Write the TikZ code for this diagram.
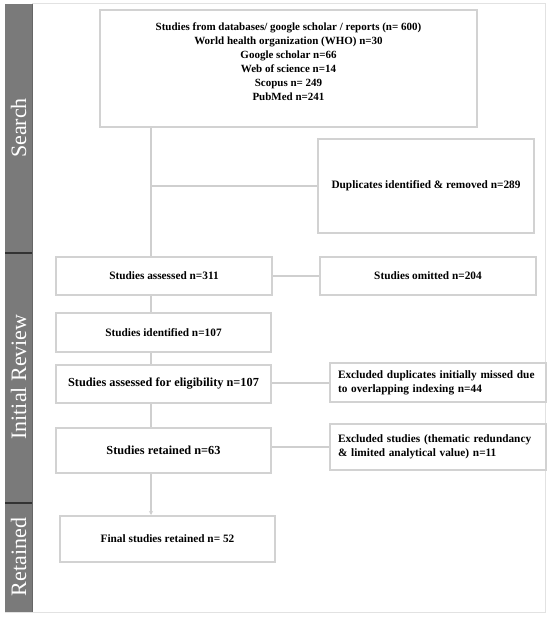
\documentclass[tikz,border=0pt]{standalone}
\usepackage{fontspec}
\setmainfont{Liberation Serif}
\usetikzlibrary{arrows.meta,calc}
\definecolor{boxgray}{HTML}{D2D2D2}
\definecolor{linegray}{HTML}{CFCFCF}
\definecolor{bandgray}{HTML}{7A7A7A}
\definecolor{framegray}{HTML}{E2E2E2}
\tikzset{
  box/.style={draw=boxgray, line width=2pt, fill=white, inner sep=0pt, align=center, font=\bfseries\fontsize{11.3}{14}\selectfont},
  conn/.style={draw=linegray, line width=2pt},
  band/.style={text=white, rotate=90, font=\fontsize{22}{24}\selectfont},
}
\begin{document}
\begin{tikzpicture}[x=1pt,y=-1pt]
\useasboundingbox (0,0) rectangle (550,617);
% frame
\draw[framegray, line width=1pt] (32,4) -- (545,4) -- (545,612) -- (5,612);
% sidebar
\fill[bandgray] (5,4) rectangle (32,612);
\draw[black!80, line width=1.2pt] (5,253) -- (32,253);
\draw[black!80, line width=1.2pt] (5,503) -- (32,503);
\draw[black!60, line width=0.6pt] (32,4) -- (32,612);
\node[band] (lsearch) at (18.5,128) {Search};
\node[band] (lreview) at (18.5,377) {Initial Review};
\node[band] (lretained) at (18.5,557) {Retained};
% boxes
\node[box, minimum width=377pt, minimum height=117pt] (top) at (288.5,68.5) {};
\node[font=\bfseries\fontsize{11}{14}\selectfont, align=center] (toptext) at (288.5,62)
 {Studies from databases/ google scholar / reports (n= 600)\\
  World health organization (WHO) n=30\\
  Google scholar n=66\\
  Web of science n=14\\
  Scopus n= 249\\
  PubMed n=241};
\node[box, minimum width=216pt, minimum height=94pt] (dup) at (426,186) {Duplicates identified \& removed n=289};
\node[box, minimum width=216pt, minimum height=38pt] (assessed) at (164,276) {Studies assessed n=311};
\node[box, minimum width=216pt, minimum height=38pt] (omitted) at (428,276) {Studies omitted n=204};
\node[box, minimum width=215pt, minimum height=39pt] (identified) at (163.5,332.5) {Studies identified n=107};
\node[box, minimum width=215pt, minimum height=38pt, font=\bfseries\fontsize{12.3}{14}\selectfont] (elig) at (163.5,384) {Studies assessed for eligibility n=107};
\node[box, minimum width=215pt, minimum height=45pt, font=\bfseries\fontsize{12.3}{14}\selectfont] (retained) at (163.5,450.5) {Studies retained n=63};
\node[box, minimum width=215pt, minimum height=46pt] (final) at (167.5,539) {Final studies retained n= 52};
\node[box, minimum width=216pt, minimum height=39pt, align=left, text width=200pt] (excldup) at (438,382.5)
 {Excluded duplicates initially missed due\\to overlapping indexing n=44};
\node[box, minimum width=216pt, minimum height=46pt, align=left, text width=200pt] (exclst) at (438,447)
 {Excluded studies (thematic redundancy\\\& limited analytical value) n=11};
% connectors
\coordinate (c1) at (151,0);
\draw[conn] (top.south -| c1) -- (assessed.north -| c1);
\draw[conn] (c1 |- dup.west) -- (dup.west);
\draw[conn] (assessed.east) -- (omitted.west);
\draw[conn] (assessed.south -| c1) -- (identified.north -| c1);
\draw[conn] (identified.south -| c1) -- (elig.north -| c1);
\draw[conn] (elig.south -| c1) -- (retained.north -| c1);
\draw[conn, -{Stealth[length=4pt,width=4pt]}] (retained.south -| c1) -- (final.north -| c1);
\draw[conn] (excldup.west -| elig.east) -- (excldup.west);
\draw[conn] (exclst.west -| retained.east) -- (exclst.west);
\end{tikzpicture}
\end{document}
